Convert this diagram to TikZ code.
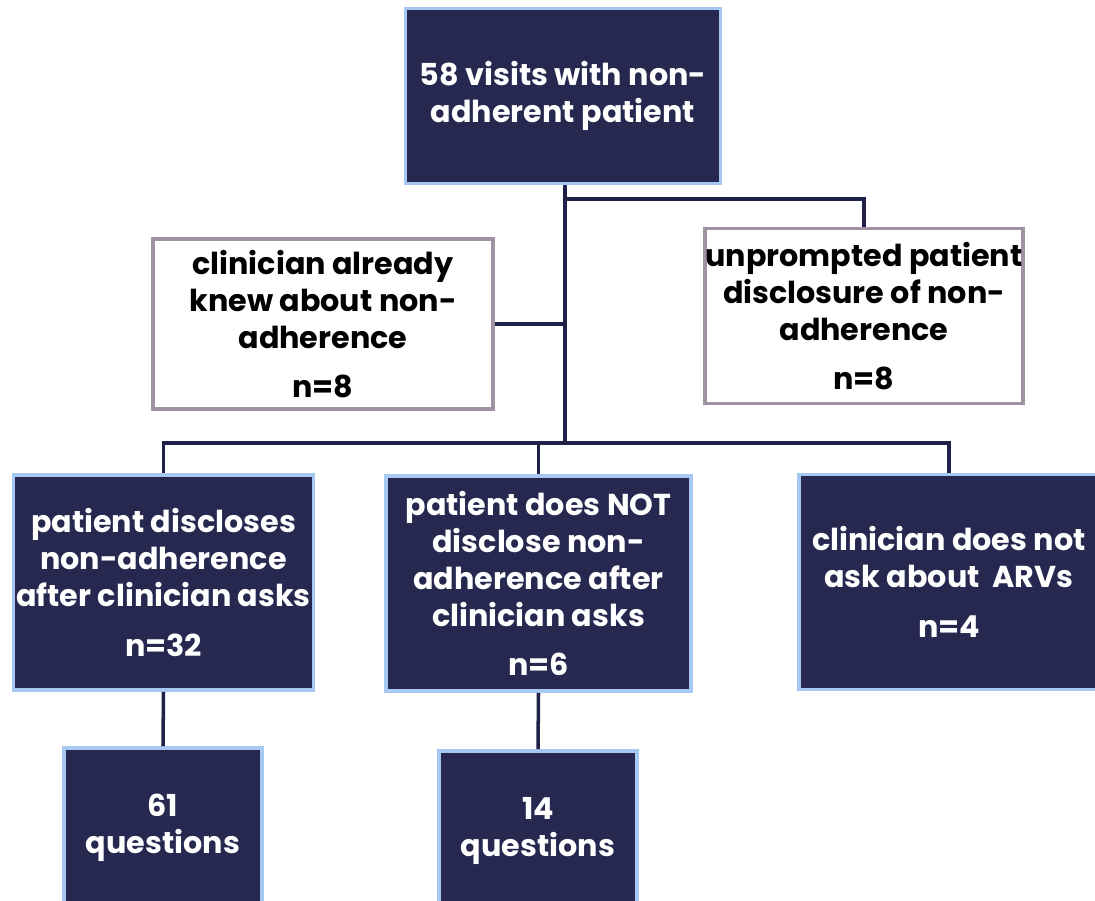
\documentclass[tikz,border=0pt]{standalone}
\usepackage{xcolor}
\usepackage{fontspec}
\setmainfont{Poppins}
\usepackage{tikz}
\usetikzlibrary{positioning}

\definecolor{navy}{HTML}{262850}
\definecolor{paleblue}{HTML}{A8C8F4}
\definecolor{mauve}{HTML}{A094A4}
\definecolor{linkcol}{HTML}{1F2148}

\begin{document}
\begin{tikzpicture}[x=0.02cm,y=-0.02cm,
    font=\fontsize{17.2}{21}\selectfont\bfseries,
    dark node/.style={rectangle,draw=paleblue,fill=navy,line width=2.2pt,text=white,align=center,inner sep=0pt},
    light node/.style={rectangle,draw=mauve,fill=white,line width=2.2pt,text=black,align=center,inner sep=0pt},
    link/.style={draw=linkcol,line width=2pt}]
    \useasboundingbox (0,0) rectangle (1095,900);
    \clip (0,0) rectangle (1095,900);

    \node[dark node,minimum width=6.3cm,minimum height=3.5cm] (visits) at (563,96) {58 visits with non-\\adherent patient};
    \node[light node,minimum width=6.8cm,minimum height=3.4cm] (knew) at (323,324) {clinician already\\knew about non-\\adherence\\[0.25cm]n=8};
    \node[light node,minimum width=6.2cm,minimum height=3.5cm] (unprompted) at (864,316) {unprompted patient\\disclosure of non-\\adherence\\[0.25cm]n=8};
    \node[dark node,minimum width=6.0cm,minimum height=4.3cm] (discloses) at (163.5,582.5) {patient discloses\\non-adherence\\after clinician asks\\[0.25cm]n=32};
    \node[dark node,minimum width=6.1cm,minimum height=4.3cm] (notdisclose) at (538.5,583.5) {patient does NOT\\disclose non-\\adherence after\\clinician asks\\[0.25cm]n=6};
    \node[dark node,minimum width=6.0cm,minimum height=4.3cm] (noask) at (949,582) {clinician does not\\ask about~ ARVs\\[0.25cm]n=4};
    \node[dark node,minimum width=3.95cm,minimum height=3.2cm] (q61) at (163,828) {61\\questions};
    \node[dark node,minimum width=3.95cm,minimum height=3.2cm] (q14) at (538,831) {14\\questions};

    % connectors
    \coordinate (fork) at (565,199);
    \coordinate (hub) at (565,443);
    \draw[link] (visits.south -| fork) -- (hub);
    \draw[link] (fork) -| (unprompted.north);
    \draw[link] (knew.east) -- (knew.east -| hub);
    \draw[link] (discloses.north) |- (hub) -| (noask.north);
    \draw[link] (notdisclose.north) -- (notdisclose.north |- hub);
    \draw[link] (discloses.south) -- (q61.north);
    \draw[link] (notdisclose.south) -- (q14.north);
\end{tikzpicture}
\end{document}
